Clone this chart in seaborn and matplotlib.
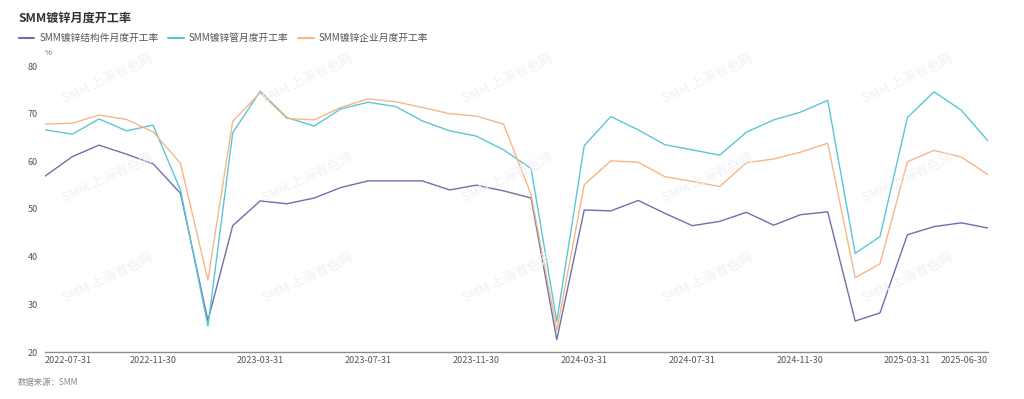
import numpy as np
import pandas as pd
import seaborn as sns
import matplotlib.pyplot as plt
import matplotlib.dates as mdates

# monthly month-end dates, 2022-07 .. 2025-06
dates = pd.date_range("2022-07-31", "2025-06-30", freq="ME")

structure = [56.9, 61.0, 63.4, 61.5, 59.5, 53.3, 26.6, 46.5, 51.7, 51.1, 52.3, 54.5,
             55.9, 55.9, 55.9, 54.0, 55.0, 53.8, 52.3, 22.6, 49.8, 49.6, 51.8, 49.1,
             46.5, 47.4, 49.3, 46.6, 48.8, 49.4, 26.5, 28.2, 44.6, 46.3, 47.1, 46.0]
pipe = [66.6, 65.7, 68.9, 66.4, 67.6, 54.0, 25.4, 66.0, 74.7, 69.2, 67.4, 71.0,
        72.4, 71.5, 68.5, 66.4, 65.3, 62.4, 58.5, 26.4, 63.3, 69.4, 66.6, 63.5,
        62.4, 61.3, 66.1, 68.7, 70.3, 72.8, 40.7, 44.2, 69.2, 74.6, 70.7, 64.3]
enterprise = [67.8, 68.0, 69.7, 68.8, 66.2, 59.6, 35.1, 68.4, 74.4, 69.0, 68.7, 71.3,
              73.1, 72.5, 71.3, 70.0, 69.5, 67.8, 53.0, 24.5, 55.1, 60.1, 59.8, 56.8,
              55.8, 54.7, 59.7, 60.5, 61.9, 63.8, 35.6, 38.5, 59.9, 62.3, 60.9, 57.2]

series_names = ["SMM镀锌结构件月度开工率", "SMM镀锌管月度开工率", "SMM镀锌企业月度开工率"]
colors = ["#6d70ad", "#5cc6d6", "#f8b684"]
tick_dates = ["2022-07-31", "2022-11-30", "2023-03-31", "2023-07-31", "2023-11-30",
              "2024-03-31", "2024-07-31", "2024-11-30", "2025-03-31", "2025-06-30"]

df = pd.DataFrame({
    "date": np.tile(dates, 3),
    "value": structure + pipe + enterprise,
    "series": np.repeat(series_names, len(dates)),
})

sns.set_style("white")
plt.rcParams["font.family"] = ["Noto Sans CJK SC", "DejaVu Sans"]

fig = plt.figure(figsize=(10.24, 3.99), dpi=100)
ax = fig.add_axes([45 / 1024, 1 - 352 / 399, (988 - 45) / 1024, (352 - 66) / 399])

# watermark
for wx in [108, 308, 508, 708, 908]:
    for wy in [79, 178, 278]:
        fig.text(wx / 1024, 1 - wy / 399, "SMM 上海有色网", color="#f1f1f3", fontsize=9.5,
                 rotation=25, ha="center", va="center", zorder=0)

sns.lineplot(data=df, x="date", y="value", hue="series", palette=colors,
             linewidth=1.0, ax=ax, legend=False)

ax.set_xlim(dates[0], dates[-1])
ax.set_ylim(20, 80)
ax.set_yticks([20, 30, 40, 50, 60, 70, 80])
ax.set_xticks(pd.to_datetime(tick_dates))
ax.xaxis.set_major_formatter(mdates.DateFormatter("%Y-%m-%d"))
ax.tick_params(axis="both", length=0, labelsize=6.5, labelcolor="#555555", pad=3)
ax.tick_params(axis="y", pad=5)
labels = ax.get_xticklabels()
labels[0].set_ha("left")
labels[-1].set_ha("right")
ax.set_xlabel("")
ax.set_ylabel("")
for s in ["top", "right", "left"]:
    ax.spines[s].set_visible(False)
ax.spines["bottom"].set_color("#8a8d99")
ax.spines["bottom"].set_linewidth(1.0)
ax.patch.set_alpha(0)

fig.text(18 / 1024, 1 - 18 / 399, "SMM镀锌月度开工率", fontsize=8.7, fontweight="bold",
         color="#333333", va="center", ha="left")
fig.text(45 / 1024, 1 - 53 / 399, "%", fontsize=5.5, color="#666666", va="center", ha="left")
fig.text(18 / 1024, 1 - 382 / 399, "数据来源：SMM", fontsize=6, color="#888888",
         style="italic", va="center", ha="left")

handles = [plt.Line2D([], [], color=c, lw=1.5) for c in colors]
fig.legend(handles, series_names, loc="center left", bbox_to_anchor=(10 / 1024, 1 - 38 / 399),
           ncol=3, frameon=False, fontsize=7, handlelength=1.6, handletextpad=0.5,
           columnspacing=1.0, labelcolor="#555555")

fig.savefig("out.png", dpi=100)
